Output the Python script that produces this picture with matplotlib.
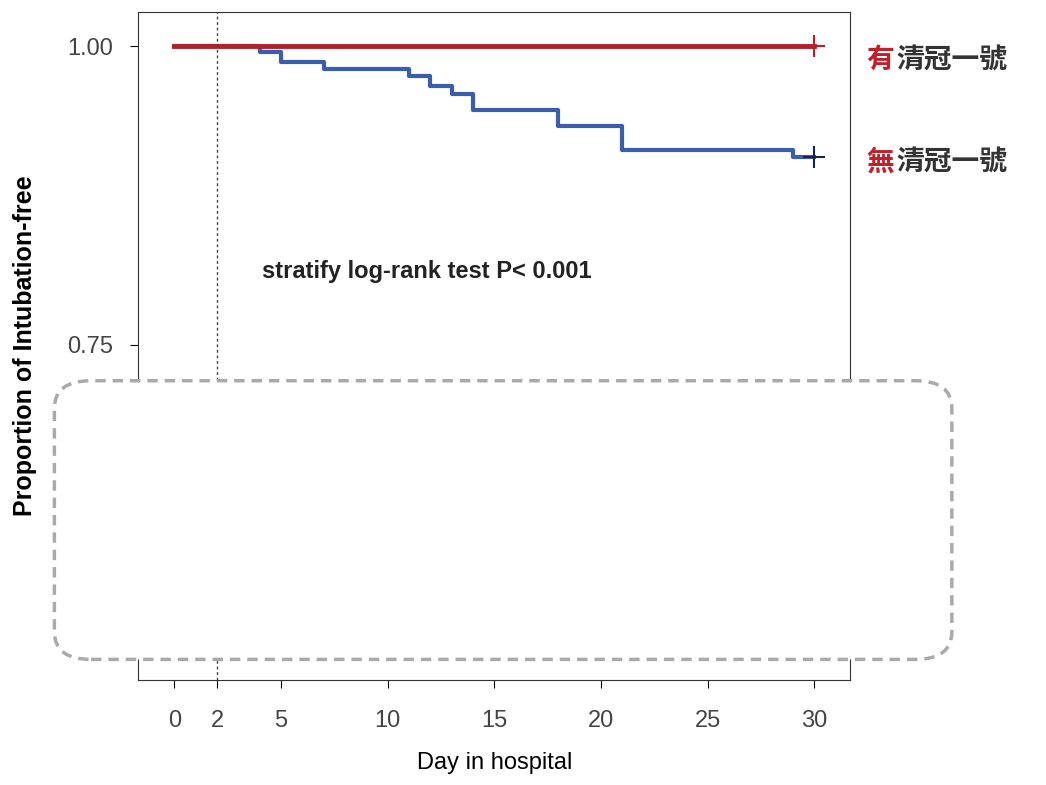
import matplotlib
matplotlib.use("Agg")
import matplotlib.pyplot as plt
from matplotlib.patches import FancyBboxPatch

plt.rcParams['font.family'] = ['Liberation Sans', 'Noto Sans CJK TC', 'DejaVu Sans']

# without treatment: step times and survival
no_days = [0, 4, 5, 7, 11, 12, 13, 14, 18, 21, 29, 30]
no_surv = [1.0, 0.995, 0.987, 0.981, 0.975, 0.967, 0.960, 0.947, 0.933, 0.913, 0.907, 0.907]
# with treatment
yes_days = [0, 30]
yes_surv = [1.0, 1.0]
x_ticks = [0, 2, 5, 10, 15, 20, 25, 30]
y_ticks = [0.50, 0.75, 1.00]

fig = plt.figure(figsize=(10.46, 7.85), dpi=100)
ax = fig.add_axes([0.132, 0.134, 0.681, 0.851])

ax.step(no_days, no_surv, where='post', color='#3a5dae', lw=3)
ax.step(yes_days, yes_surv, where='post', color='#b2222a', lw=3.5)
ax.plot([30], [no_surv[-1]], marker='+', ms=16, mew=1.5, color='#1a2340')
ax.plot([30], [yes_surv[-1]], marker='+', ms=16, mew=1.5, color='#b2222a')
ax.axvline(2, color='#444444', ls=(0, (2, 2)), lw=1)

ax.set_xlim(-1.7, 31.7)
ax.set_ylim(0.469, 1.029)
ax.set_xticks(x_ticks)
ax.set_yticks(y_ticks)
ax.set_yticklabels(['%.2f' % v for v in y_ticks])
ax.tick_params(labelsize=17, labelcolor='#444444', length=6)
ax.tick_params(axis='x', pad=16)
ax.tick_params(axis='y', pad=12)
for s in ax.spines.values():
    s.set_color('#333333')

ax.set_xlabel('Day in hospital', fontsize=17, labelpad=14)
ax.set_ylabel('Proportion of Intubation-free', fontsize=18, fontweight='bold', labelpad=22)
ax.text(4.1, 0.811, 'stratify log-rank test P< 0.001', fontsize=17, fontweight='bold',
        color='#222222', va='center')

fig.text(0.828, 0.922, '有', fontsize=20, fontweight='bold', color='#c0202a', va='center')
fig.text(0.857, 0.922, '清冠一號', fontsize=20, fontweight='bold', color='#333333', va='center')
fig.text(0.828, 0.792, '無', fontsize=20, fontweight='bold', color='#c0202a', va='center')
fig.text(0.857, 0.792, '清冠一號', fontsize=20, fontweight='bold', color='#333333', va='center')

box = FancyBboxPatch((0.052, 0.16), 0.858, 0.355, transform=fig.transFigure,
                     boxstyle='round,pad=0,rounding_size=0.035', facecolor='white',
                     edgecolor='#aaaaaa', lw=2.5, ls=(0, (3, 2)), zorder=10)
fig.patches.append(box)

fig.savefig('out.png', dpi=100)
